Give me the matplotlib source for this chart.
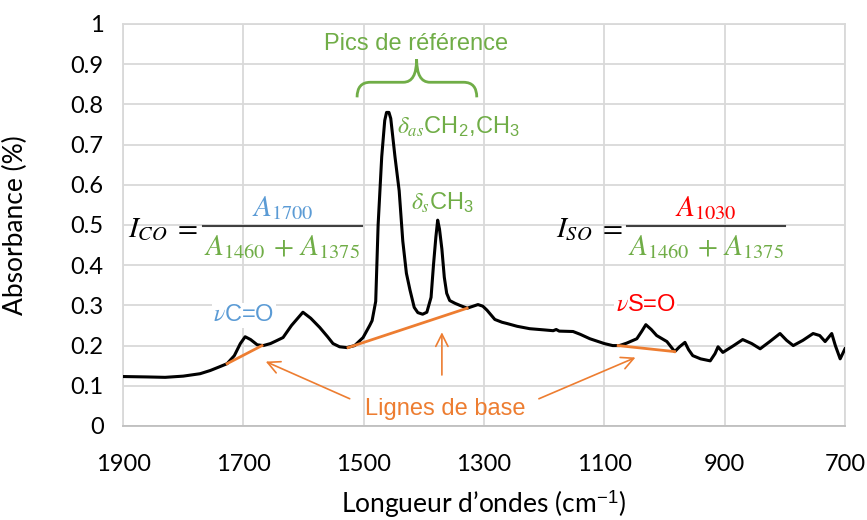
import matplotlib
matplotlib.use('Agg')
import matplotlib.pyplot as plt
import numpy as np
from matplotlib.path import Path
from matplotlib.patches import PathPatch

plt.rcParams['mathtext.fontset'] = 'custom'
plt.rcParams['mathtext.rm'] = 'STIXGeneral'
plt.rcParams['mathtext.it'] = 'STIXGeneral:italic'
plt.rcParams['mathtext.bf'] = 'STIXGeneral:bold'
plt.rcParams['mathtext.sf'] = 'Liberation Sans'

# spectrum
wavenumber = [1900, 1860, 1830, 1800, 1772, 1755, 1740, 1727, 1715, 1705, 1697, 1688,
              1677, 1667, 1655, 1645, 1634, 1620, 1601, 1588, 1573, 1560, 1551, 1540,
              1528, 1515, 1501, 1490, 1486, 1480, 1476, 1470, 1465, 1462, 1458, 1455, 1448,
              1441, 1435, 1429, 1423, 1416, 1410, 1402, 1395, 1388, 1384, 1380, 1377,
              1374, 1370, 1366, 1362, 1357, 1348, 1340, 1328, 1318, 1310, 1302, 1295,
              1282, 1270, 1262, 1245, 1224, 1200, 1185, 1180, 1175, 1152, 1140, 1124,
              1110, 1100, 1086, 1075, 1063, 1046, 1038, 1031, 1022, 1013, 996, 983,
              975, 966, 960, 953, 940, 924, 916, 911, 903, 885, 870, 855, 841, 825,
              808, 797, 786, 770, 753, 742, 733, 722, 716, 708, 700]
absorbance = [0.123, 0.122, 0.121, 0.124, 0.130, 0.138, 0.147, 0.155, 0.175, 0.205, 0.222, 0.215,
              0.202, 0.200, 0.205, 0.212, 0.220, 0.250, 0.283, 0.268, 0.245, 0.222, 0.205, 0.197,
              0.195, 0.200, 0.220, 0.250, 0.262, 0.310, 0.500, 0.670, 0.760, 0.780, 0.780, 0.765, 0.670,
              0.585, 0.460, 0.380, 0.338, 0.295, 0.282, 0.278, 0.283, 0.320, 0.400, 0.470, 0.512,
              0.490, 0.440, 0.370, 0.330, 0.312, 0.305, 0.300, 0.293, 0.298, 0.302, 0.298, 0.288,
              0.265, 0.258, 0.255, 0.248, 0.242, 0.239, 0.237, 0.240, 0.236, 0.235, 0.228, 0.217,
              0.210, 0.205, 0.200, 0.200, 0.206, 0.217, 0.235, 0.252, 0.240, 0.225, 0.210, 0.185,
              0.197, 0.208, 0.190, 0.175, 0.167, 0.162, 0.180, 0.197, 0.183, 0.200, 0.215, 0.205,
              0.192, 0.210, 0.230, 0.213, 0.200, 0.213, 0.230, 0.225, 0.210, 0.230, 0.200, 0.167,
              0.192]

# baselines
base_co_x = [1727, 1669]
base_co_y = [0.155, 0.200]
base_ref_x = [1526, 1328]
base_ref_y = [0.195, 0.293]
base_so_x = [1077, 983]
base_so_y = [0.200, 0.185]

xticks = [1900, 1700, 1500, 1300, 1100, 900, 700]
yticks = [0, 0.1, 0.2, 0.3, 0.4, 0.5, 0.6, 0.7, 0.8, 0.9, 1]
ytick_labels = ['0', '0.1', '0.2', '0.3', '0.4', '0.5', '0.6', '0.7', '0.8', '0.9', '1']

orange = '#ED7D31'
blue = '#5B9BD5'
green = '#70AD47'
red = '#FF0000'
grid_c = '#D9D9D9'
tick_font = 'Lato'
note_font = 'Liberation Sans'

fig = plt.figure(figsize=(8.67, 5.2), dpi=100)
ax = fig.add_axes([0.1419, 0.1808, 0.8327, 0.7731])

ax.plot(wavenumber, absorbance, color='black', linewidth=2.2, zorder=3,
        solid_joinstyle='round')
for bx, by in [(base_co_x, base_co_y), (base_ref_x, base_ref_y), (base_so_x, base_so_y)]:
    ax.plot(bx, by, color=orange, linewidth=2, zorder=4)

ax.set_xlim(1900, 700)
ax.set_ylim(0, 1)
ax.set_xticks(xticks)
ax.set_yticks(yticks)
ax.set_yticklabels(ytick_labels)
ax.grid(True, color=grid_c, linewidth=1.3)
ax.set_axisbelow(True)
for s in ax.spines.values():
    s.set_color(grid_c)
    s.set_linewidth(1.3)
ax.spines['bottom'].set_color('#BFBFBF')
ax.tick_params(length=0, labelsize=17, pad=14)
for lab in ax.get_xticklabels() + ax.get_yticklabels():
    lab.set_fontfamily(tick_font)
ax.tick_params(axis='x', pad=20)

ax.set_xlabel("Longueur d\u2019ondes (cm$^{\\mathsf{-1}}$)", fontsize=19, fontfamily=tick_font)
ax.set_ylabel('Absorbance (%)', fontsize=19, fontfamily=tick_font)
ax.xaxis.set_label_coords(0.5, -0.155)
ax.yaxis.set_label_coords(-0.131, 0.5)

# peak labels
nfs = 17
ax.text(1699, 0.275, r'$\nu$C=O', color=blue, fontsize=nfs, fontfamily=note_font,
        ha='center', va='center', zorder=5,
        bbox=dict(facecolor='white', edgecolor='none', pad=1))
ax.text(1031, 0.30, r'$\nu$S=O', color=red, fontsize=nfs, fontfamily=note_font,
        ha='center', va='center', zorder=5,
        bbox=dict(facecolor='white', edgecolor='none', pad=1))
ax.text(1444, 0.745, r'$\delta_{as}$CH$_\mathsf{2}$,CH$_\mathsf{3}$', color=green,
        fontsize=nfs, fontfamily=note_font, ha='left', va='center', zorder=5)
ax.text(1422, 0.555, r'$\delta_{s}$CH$_\mathsf{3}$', color=green,
        fontsize=nfs, fontfamily=note_font, ha='left', va='center', zorder=5)
ax.text(1413, 0.95, 'Pics de r\u00e9f\u00e9rence', color=green, fontsize=nfs,
        fontfamily=note_font, ha='center', va='center', zorder=5)

# brace over the reference peaks
L, R, C = 1511, 1312, 1412
b, m, t, d = 0.8175, 0.855, 0.9125, 22
verts = [(L, b), (L, m), (L - d, m), (C + d, m), (C, m), (C, t),
         (C, m), (C - d, m), (R + d, m), (R, m), (R, b)]
codes = [Path.MOVETO, Path.CURVE3, Path.CURVE3, Path.LINETO, Path.CURVE3, Path.CURVE3,
         Path.CURVE3, Path.CURVE3, Path.LINETO, Path.CURVE3, Path.CURVE3]
ax.add_patch(PathPatch(Path(verts, codes), facecolor='none', edgecolor=green, lw=2, zorder=5))

# baseline label and arrows
ax.text(1365, 0.043, 'Lignes de base', color=orange, fontsize=nfs, fontfamily=note_font,
        ha='center', va='center', zorder=5)
arrow = dict(arrowstyle='->', color=orange, lw=1.2, mutation_scale=22)
ax.annotate('', xy=(1667, 0.163), xytext=(1519, 0.065), arrowprops=arrow, zorder=5)
ax.annotate('', xy=(1370, 0.24), xytext=(1370, 0.12), arrowprops=arrow, zorder=5)
ax.annotate('', xy=(1044, 0.173), xytext=(1213, 0.065), arrowprops=arrow, zorder=5)

# index formulas
fs = 21
denom = r'$A_{1460}\,+\,A_{1375}$'
ax.text(1776, 0.49, r'$I_{CO}\;=$', fontsize=fs, ha='right', va='center', zorder=5)
ax.plot([1767, 1503], [0.4975, 0.4975], color='#404040', lw=1.5, zorder=5)
ax.text(1635, 0.543, r'$A_{1700}$', color=blue, fontsize=fs, ha='center', va='center', zorder=5)
ax.text(1635, 0.445, denom, color=green, fontsize=fs, ha='center', va='center', zorder=5)

ax.text(1070, 0.49, r'$I_{SO}\;=$', fontsize=fs, ha='right', va='center', zorder=5)
ax.plot([1062, 800], [0.4975, 0.4975], color='#404040', lw=1.5, zorder=5)
ax.text(931, 0.543, r'$A_{1030}$', color=red, fontsize=fs, ha='center', va='center', zorder=5)
ax.text(931, 0.445, denom, color=green, fontsize=fs, ha='center', va='center', zorder=5)

fig.savefig('out.png', dpi=100)
